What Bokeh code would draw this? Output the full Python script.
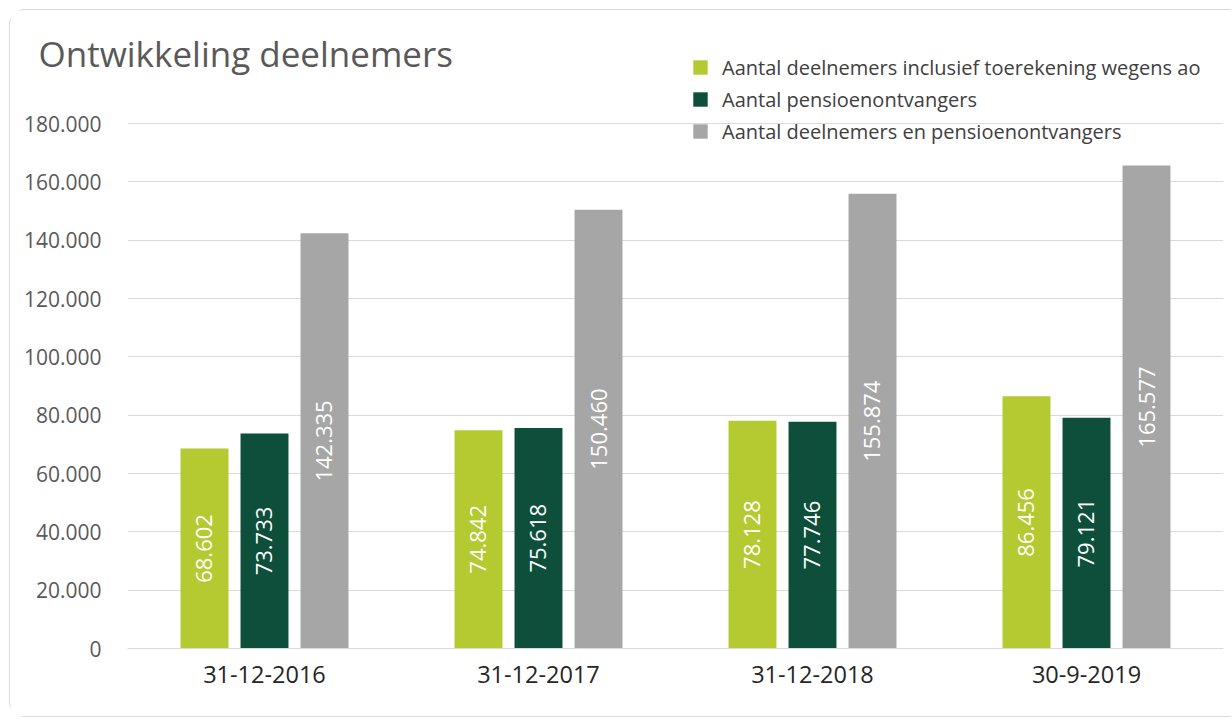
import math
from bokeh.plotting import figure
from bokeh.models import (ColumnDataSource, FactorRange, FixedTicker, CustomJSTickFormatter,
                          Legend, LegendItem, LabelSet, Range1d)
from bokeh.transform import dodge
from bokeh.core.properties import value
from bokeh.embed import file_html
from bokeh.resources import INLINE

# ---- data ----
categories = ["31-12-2016", "31-12-2017", "31-12-2018", "30-9-2019"]
deelnemers_incl_ao = [68602, 74842, 78128, 86456]
pensioenontvangers = [73733, 75618, 77746, 79121]
deelnemers_en_pensioen = [142335, 150460, 155874, 165577]
series_names = ["Aantal deelnemers inclusief toerekening wegens ao",
                "Aantal pensioenontvangers",
                "Aantal deelnemers en pensioenontvangers"]
y_ticks = [0, 20000, 40000, 60000, 80000, 100000, 120000, 140000, 160000, 180000]
title_text = "Ontwikkeling deelnemers"

colors = ["#b5c930", "#0e4f3b", "#a6a6a6"]
FONT = "Open Sans"

# layout (pixels): frame spans from y=52 to y=648, the 180.000 gridline sits at y=123
FRAME_TOP, GRID_TOP, FRAME_BOTTOM = 52, 123, 648
y_end = y_ticks[-1] * (FRAME_BOTTOM - FRAME_TOP) / (FRAME_BOTTOM - GRID_TOP)


def fmt(v):
    return f"{v:,}".replace(",", ".")


src = ColumnDataSource(dict(
    cat=categories,
    a=deelnemers_incl_ao, b=pensioenontvangers, c=deelnemers_en_pensioen,
    a_half=[v / 2 for v in deelnemers_incl_ao],
    b_half=[v / 2 for v in pensioenontvangers],
    c_half=[v / 2 for v in deelnemers_en_pensioen],
    a_lab=[fmt(v) for v in deelnemers_incl_ao],
    b_lab=[fmt(v) for v in pensioenontvangers],
    c_lab=[fmt(v) for v in deelnemers_en_pensioen],
))

p = figure(width=1222, height=708, x_range=FactorRange(*categories, range_padding=0),
           y_range=Range1d(0, y_end), output_backend="svg", toolbar_location=None,
           min_border_left=117, min_border_right=9, min_border_top=42, min_border_bottom=70)
p.styles = {"margin": "9px 0 0 9px",
            "border-top": "1px solid #d9d9d9", "border-left": "1px solid #d9d9d9",
            "border-bottom": "1px solid #d9d9d9", "border-radius": "16px 0 0 16px"}
p.outline_line_color = None
p.background_fill_color = "white"
p.border_fill_color = "white"

# title
p.title.text = title_text
p.title.align = "left"
p.title.offset = -89
p.title.standoff = -48
p.title.text_font = FONT
p.title.text_font_size = "35px"
p.title.text_font_style = "normal"
p.title.text_color = "#595959"

offset = 0.219
width = 0.175
cols = ["a", "b", "c"]
offs = [-offset, 0, offset]
renderers = []
for col, off, color in zip(cols, offs, colors):
    r = p.vbar(x=dodge("cat", off, range=p.x_range), top=col, width=width, source=src,
               fill_color=color, line_color=None)
    renderers.append(r)
    labels = LabelSet(x=dodge("cat", off, range=p.x_range), y=col + "_half", text=col + "_lab",
                      source=src, angle=math.pi / 2, text_align="center", text_baseline="middle",
                      text_color="white", text_font=value(FONT), text_font_size="22px")
    p.add_layout(labels)

# axes
p.yaxis.ticker = FixedTicker(ticks=y_ticks)
p.yaxis.formatter = CustomJSTickFormatter(
    code="return tick.toFixed(0).replace(/\\B(?=(\\d{3})+(?!\\d))/g, '.');")
p.yaxis.axis_line_color = None
p.yaxis.major_tick_line_color = None
p.yaxis.minor_tick_line_color = None
p.yaxis.major_label_standoff = 20
p.yaxis.major_label_text_font = FONT
p.yaxis.major_label_text_font_size = "21px"
p.yaxis.major_label_text_color = "#595959"

p.xaxis.axis_line_color = "#d9d9d9"
p.xaxis.major_tick_line_color = None
p.xaxis.minor_tick_line_color = None
p.xaxis.major_label_standoff = 11
p.xaxis.major_label_text_font = FONT
p.xaxis.major_label_text_font_size = "23.5px"
p.xaxis.major_label_text_color = "#262626"
p.xgrid.grid_line_color = None
p.ygrid.grid_line_color = "#d9d9d9"
p.ygrid.grid_line_width = 1

# legend inside the (extended) frame, bottom-left corner given in frame pixels
legend = Legend(items=[LegendItem(label=n, renderers=[r]) for n, r in zip(series_names, renderers)],
                location=(564, 503), orientation="vertical",
                glyph_width=18, glyph_height=18, label_height=28, spacing=4,
                padding=0, margin=0, label_standoff=13,
                label_text_font=FONT, label_text_font_size="20px", label_text_color="#404040",
                border_line_color=None, background_fill_alpha=0)
p.add_layout(legend)

open("out.html", "w").write(file_html(p, INLINE))
